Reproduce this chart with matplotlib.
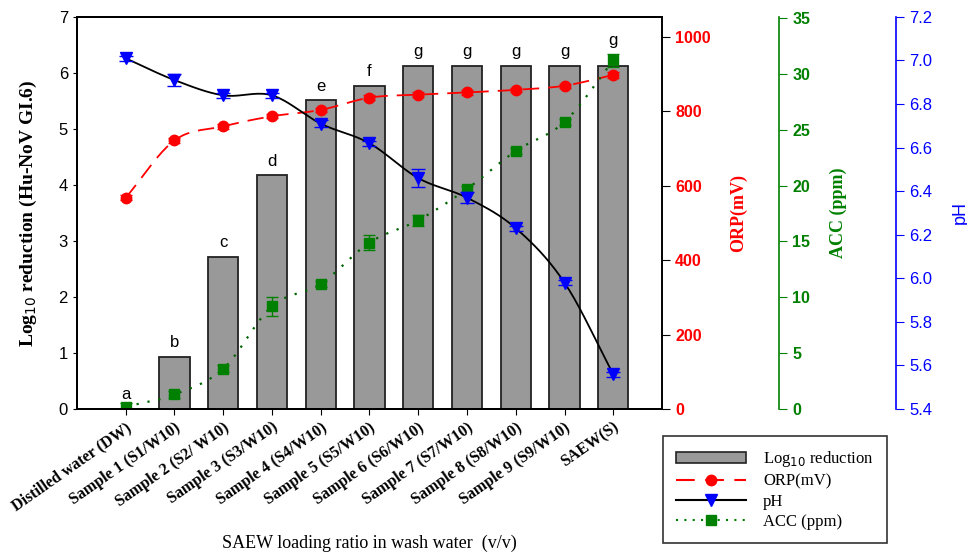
import matplotlib.pyplot as plt
import numpy as np
from matplotlib.patches import Patch
from matplotlib.lines import Line2D

# data
categories = ['Distilled water (DW)', 'Sample 1 (S1/W10)', 'Sample 2 (S2/ W10)',
              'Sample 3 (S3/W10)', 'Sample 4 (S4/W10)', 'Sample 5 (S5/W10)',
              'Sample 6 (S6/W10)', 'Sample 7 (S7/W10)', 'Sample 8 (S8/W10)',
              'Sample 9 (S9/W10)', 'SAEW(S)']
log_red = [0.0, 0.93, 2.71, 4.17, 5.51, 5.77, 6.12, 6.12, 6.12, 6.12, 6.12]
letters = ['a', 'b', 'c', 'd', 'e', 'f', 'g', 'g', 'g', 'g', 'g']
orp = [568, 722, 760, 787, 804, 837, 845, 851, 858, 869, 898]
orp_err = [6, 6, 6, 6, 6, 6, 6, 6, 6, 6, 8]
ph = [7.01, 6.91, 6.84, 6.84, 6.71, 6.62, 6.46, 6.37, 6.23, 5.98, 5.56]
ph_err = [0.012, 0.028, 0.012, 0.012, 0.015, 0.012, 0.04, 0.025, 0.012, 0.012, 0.012]
acc = [0.2, 1.3, 3.6, 9.2, 11.2, 14.9, 16.9, 19.7, 23.1, 25.7, 31.2]
acc_err = [0.3, 0.3, 0.3, 0.85, 0.3, 0.7, 0.5, 0.3, 0.3, 0.3, 0.6]

serif = 'Liberation Serif'
sans = 'Liberation Sans'
green = '#008000'


def smooth(x, y, n=20):
    # Catmull-Rom curve through the points, only for drawing the line
    x = np.asarray(x, float)
    y = np.asarray(y, float)
    px = np.concatenate([[2 * x[0] - x[1]], x, [2 * x[-1] - x[-2]]])
    py = np.concatenate([[2 * y[0] - y[1]], y, [2 * y[-1] - y[-2]]])
    xs, ys = [], []
    t = np.linspace(0, 1, n, endpoint=False)
    for i in range(1, len(px) - 2):
        for arr, out in ((px, xs), (py, ys)):
            p0, p1, p2, p3 = arr[i - 1], arr[i], arr[i + 1], arr[i + 2]
            out.extend(0.5 * (2 * p1 + (-p0 + p2) * t + (2 * p0 - 5 * p1 + 4 * p2 - p3) * t ** 2
                              + (-p0 + 3 * p1 - 3 * p2 + p3) * t ** 3))
    xs.append(x[-1])
    ys.append(y[-1])
    return xs, ys


x = np.arange(len(categories))

fig = plt.figure(figsize=(9.67, 5.53), dpi=100)
ax = fig.add_axes([0.0796, 0.2604, 0.605, 0.709])

ax.bar(x, log_red, width=0.62, color='#999999', edgecolor='#222222', linewidth=1.3, zorder=1)
for xi, h, lab in zip(x, log_red, letters):
    pad = 0.12 if xi < len(x) - 1 else 0.32  # last letter sits above the ACC marker
    ax.text(xi, h + pad, lab, ha='center', va='bottom', fontsize=12, family=sans)

ax.set_xlim(-1, 11)
ax.set_ylim(0, 7)
ax.set_yticks(range(0, 8))
ax.tick_params(axis='y', direction='out', length=3, labelsize=12)
ax.tick_params(axis='x', direction='out', length=4)
for lab in ax.get_yticklabels():
    lab.set_family(sans)
ax.set_xticks(x)
ax.set_xticklabels(categories, rotation=35, ha='right', rotation_mode='anchor',
                   family=serif, fontweight='bold', fontsize=11.5)
ax.set_ylabel('Log$_{10}$ reduction (Hu-NoV GI.6)', family=serif, fontweight='bold', fontsize=14,
              labelpad=14)
ax.text(0.5, -0.342, 'SAEW loading ratio in wash water  (v/v)', transform=ax.transAxes,
        ha='center', va='center', family=serif, fontsize=13)
ax.tick_params(right=False)

# ORP axis
ax2 = ax.twinx()
sx, sy = smooth(x, orp)
ax2.plot(sx, sy, color='red', linestyle=(0, (9, 5)), linewidth=1.3)
ax2.errorbar(x, orp, yerr=orp_err, fmt='o', color='red', markersize=7.5, capsize=4, elinewidth=1)
ax2.set_ylim(0, 1054)
ax2.set_yticks(range(0, 1001, 200))
ax2.tick_params(axis='y', colors='black', labelcolor='red', length=6, labelsize=11.5)
for lab in ax2.get_yticklabels():
    lab.set_family(sans)
    lab.set_fontweight('bold')
ax2.set_ylabel('ORP(mV)', color='red', family=serif, fontweight='bold', fontsize=13, labelpad=14)

# ACC axis
ax3 = ax.twinx()
ax3.spines['right'].set_position(('axes', 1.2))
ax3.spines['right'].set_color(green)
sx, sy = smooth(x, acc)
ax3.plot(sx, sy, color='#006400', linestyle=(0, (1, 4)), linewidth=1.6)
ax3.errorbar(x, acc, yerr=acc_err, fmt='s', color=green, markersize=6.5, capsize=4, elinewidth=1)
ax3.set_ylim(0, 35.1)
ax3.set_yticks(range(0, 36, 5))
ax3.tick_params(axis='y', colors=green, length=6, labelsize=11.5)
for lab in ax3.get_yticklabels():
    lab.set_family(sans)
    lab.set_fontweight('bold')
ax3.set_ylabel('ACC (ppm)', color=green, family=serif, fontweight='bold', fontsize=13, labelpad=14)

# pH axis
ax4 = ax.twinx()
ax4.spines['right'].set_position(('axes', 1.4))
ax4.spines['right'].set_color('blue')
sx, sy = smooth(x, ph)
ax4.plot(sx, sy, color='black', linewidth=1.3)
ax4.errorbar(x, ph, yerr=ph_err, fmt='v', color='blue', markersize=8, capsize=5, elinewidth=1)
ax4.set_ylim(5.4, 7.2)
ax4.set_yticks(np.arange(5.4, 7.21, 0.2))
ax4.set_yticklabels([f'{v:.1f}' for v in np.arange(5.4, 7.21, 0.2)])
ax4.tick_params(axis='y', colors='blue', length=6, labelsize=12)
for lab in ax4.get_yticklabels():
    lab.set_family(sans)
ax4.set_ylabel('pH', color='blue', family=sans, fontsize=13, labelpad=14)

for a in (ax2, ax3, ax4):
    a.set_zorder(ax.get_zorder() + 1)
    a.patch.set_visible(False)
for a in (ax, ax2, ax3, ax4):
    for s in a.spines.values():
        s.set_linewidth(1.2)

handles = [
    Patch(facecolor='#999999', edgecolor='#222222', linewidth=1.2),
    Line2D([], [], color='red', linestyle=(0, (9, 5)), marker='o', markersize=7.5),
    Line2D([], [], color='black', marker='v', markerfacecolor='blue', markeredgecolor='blue', markersize=8),
    Line2D([], [], color=green, linestyle=(0, (1, 3)), marker='s', markersize=6.5),
]
labels = ['Log$_{10}$ reduction', 'ORP(mV)', 'pH', 'ACC (ppm)']
leg = fig.legend(handles, labels, loc='upper left', bbox_to_anchor=(0.6856, 0.2116),
                 borderaxespad=0, prop={'family': serif, 'size': 12}, frameon=True, fancybox=False,
                 edgecolor='black', handlelength=4.2, handleheight=0.7, labelspacing=0.25,
                 borderpad=0.8, handletextpad=1.0)
leg.get_frame().set_linewidth(1.2)

fig.savefig('out.png', dpi=100)
